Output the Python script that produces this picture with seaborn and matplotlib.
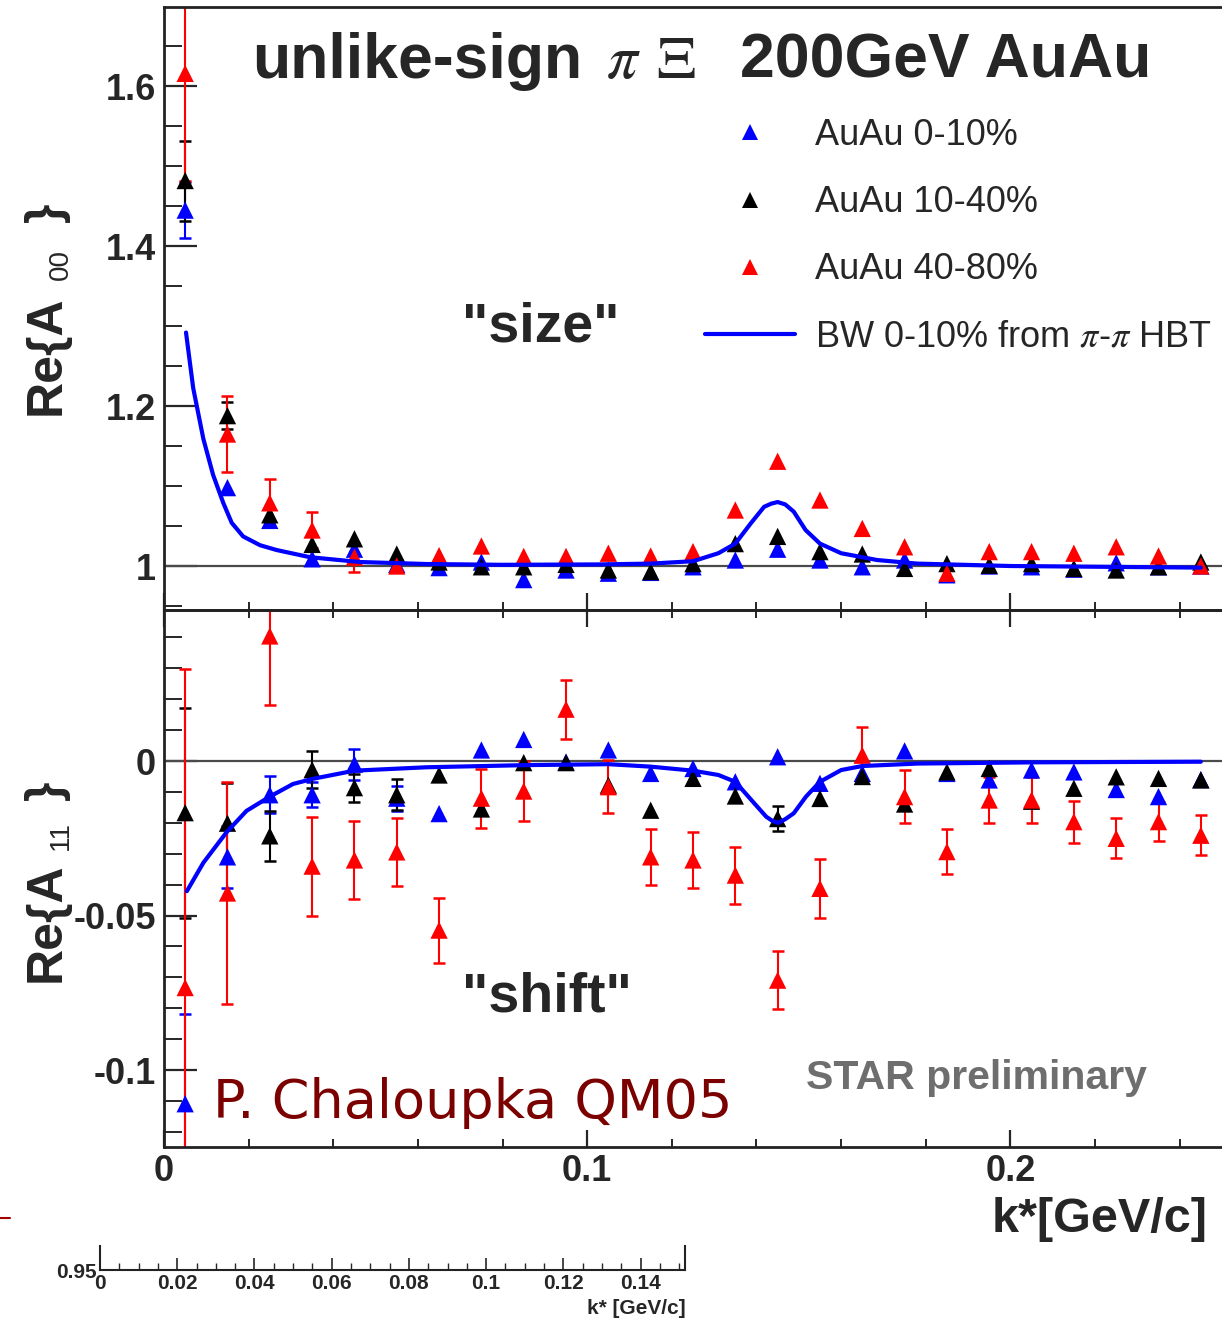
import matplotlib
matplotlib.use("Agg")
import numpy as np
import pandas as pd
import matplotlib.pyplot as plt
import seaborn as sns
from matplotlib.ticker import MultipleLocator, FixedLocator, FuncFormatter
from matplotlib.lines import Line2D

# ---------------------------------------------------------------- data
k_star = [0.005, 0.015, 0.025, 0.035, 0.045, 0.055, 0.065, 0.075, 0.085,
          0.095, 0.105, 0.115, 0.125, 0.135, 0.145, 0.155, 0.165, 0.175,
          0.185, 0.195, 0.205, 0.215, 0.225, 0.235, 0.245]

series_names = ["AuAu 0-10%", "AuAu 10-40%", "AuAu 40-80%"]
series_colors = ["#0000ff", "#000000", "#ff0000"]

# Re{A00} ("size"); an error of 0 means the bar is hidden behind its marker
a00_central = [1.445, 1.098, 1.057, 1.009, 1.021, 1.002, 0.998, 1.005, 0.983,
               0.995, 0.991, 0.992, 0.999, 1.0075, 1.021, 1.0075, 0.999, 1.0075,
               0.989, 1.000, 0.999, 0.996, 1.004, 0.999, 1.000]
a00_central_err = [0.035, 0, 0, 0, 0, 0, 0, 0, 0, 0, 0, 0, 0, 0, 0, 0, 0, 0,
                   0, 0, 0, 0, 0, 0, 0]
a00_midcent = [1.482, 1.188, 1.064, 1.027, 1.034, 1.015, 1.005, 0.999, 0.999,
               1.002, 0.995, 0.993, 1.003, 1.028, 1.037, 1.018, 1.015, 0.997,
               1.003, 1.001, 1.003, 0.997, 0.995, 0.999, 1.005]
a00_midcent_err = [0.050, 0.017, 0, 0, 0, 0, 0, 0, 0, 0, 0, 0, 0, 0, 0, 0, 0,
                   0, 0, 0, 0, 0, 0, 0, 0]
a00_periph = [1.616, 1.165, 1.079, 1.045, 1.011, 1.000, 1.013, 1.025, 1.012,
              1.012, 1.016, 1.0125, 1.018, 1.070, 1.131, 1.0825, 1.047, 1.024,
              0.991, 1.018, 1.018, 1.016, 1.024, 1.0125, 1.000]
a00_periph_err = [0.134, 0.048, 0.030, 0.022, 0.018, 0, 0, 0, 0, 0, 0, 0, 0,
                  0, 0, 0, 0, 0, 0, 0, 0, 0, 0, 0, 0]

# Re{A11} ("shift")
a11_central = [-0.1109, -0.031, -0.0109, -0.0109, -0.001, -0.012, -0.017, 0.0036,
               0.007, -0.0003, 0.0036, -0.004, -0.0024, -0.0067, 0.0014, -0.0072,
               -0.004, 0.0033, -0.004, -0.0061, -0.0029, -0.0035, -0.0092,
               -0.0115, -0.006]
a11_central_err = [0.029, 0.010, 0.006, 0.004, 0.005, 0.004, 0, 0, 0, 0, 0, 0,
                   0, 0, 0, 0, 0, 0, 0, 0, 0, 0, 0, 0, 0]
a11_midcent = [-0.0167, -0.0201, -0.0242, -0.0028, -0.0086, -0.0109, -0.0045,
               -0.0155, -0.0005, -0.0005, -0.0078, -0.0159, -0.0056, -0.0113,
               -0.0186, -0.0121, -0.0050, -0.0139, -0.0035, -0.0024, -0.013,
               -0.0088, -0.0051, -0.0056, -0.0061]
a11_midcent_err = [0.034, 0.013, 0.008, 0.006, 0.0045, 0.005, 0, 0, 0, 0, 0, 0,
                   0, 0, 0.004, 0, 0, 0, 0, 0, 0, 0, 0, 0, 0]
a11_periph = [-0.0733, -0.0427, 0.0405, -0.034, -0.032, -0.0294, -0.0547, -0.012,
              -0.0097, 0.0168, -0.0083, -0.031, -0.032, -0.0369, -0.0709, -0.0412,
              0.0019, -0.0115, -0.0293, -0.0126, -0.0126, -0.0196, -0.025,
              -0.0196, -0.024]
a11_periph_err = [0.103, 0.036, 0.0225, 0.016, 0.0125, 0.011, 0.0105, 0.0095,
                  0.0098, 0.0095, 0.0086, 0.009, 0.009, 0.0092, 0.0093, 0.0095,
                  0.009, 0.0085, 0.0074, 0.0074, 0.0074, 0.0068, 0.0065, 0.0063,
                  0.0064]

# Blast-wave 0-10% expectation from pi-pi HBT
bw_k_a00 = [0.0052, 0.0069, 0.0093, 0.0116, 0.014, 0.016, 0.0187, 0.0227, 0.0266,
            0.0345, 0.0463, 0.062, 0.080, 0.103, 0.115, 0.125, 0.131, 0.135,
            0.1386, 0.1418, 0.1435, 0.145, 0.1468, 0.1488, 0.1516, 0.155, 0.160,
            0.1685, 0.178, 0.200, 0.245]
bw_a00 = [1.292, 1.2225, 1.159, 1.114, 1.079, 1.054, 1.037, 1.026, 1.020,
          1.011, 1.005, 1.0025, 1.0015, 1.002, 1.003, 1.006, 1.016, 1.028,
          1.053, 1.074, 1.078, 1.080, 1.077, 1.068, 1.045, 1.028, 1.016,
          1.0075, 1.003, 1.000, 0.998]
bw_k_a11 = [0.0054, 0.0093, 0.0148, 0.0195, 0.025, 0.0305, 0.0353, 0.045, 0.062,
            0.0857, 0.105, 0.115, 0.125, 0.131, 0.135, 0.1395, 0.1423, 0.1437,
            0.1451, 0.1468, 0.1488, 0.1517, 0.155, 0.160, 0.165, 0.178, 0.206,
            0.245]
bw_a11 = [-0.0421, -0.0329, -0.023, -0.0161, -0.0115, -0.0074, -0.0057, -0.0031,
          -0.002, -0.0013, -0.001, -0.0018, -0.0031, -0.0045, -0.0067, -0.0137,
          -0.018, -0.0193, -0.020, -0.0188, -0.0169, -0.0115, -0.0067, -0.0029,
          -0.0016, -0.0008, -0.0004, -0.0002]

x_major = [0.0, 0.1, 0.2]
a00_major = [1.0, 1.2, 1.4, 1.6]
a11_major = [-0.1, -0.05, 0.0]
inset_major = [0.0, 0.02, 0.04, 0.06, 0.08, 0.10, 0.12, 0.14]

# ---------------------------------------------------------------- style
sns.set_theme(style="ticks")
plt.rcParams["font.family"] = ["Liberation Sans", "DejaVu Sans"]
plt.rcParams["mathtext.fontset"] = "stix"
plt.rcParams["axes.edgecolor"] = "#222222"

W, H = 1222, 1321
fig = plt.figure(figsize=(W / 100, H / 100), dpi=100)


def fx(px):
    return px / W


def fy(py):
    return 1 - py / H


def long_frame(values, errors):
    rows = []
    for name, vals, errs in zip(series_names, values, errors):
        for kk, v, e in zip(k_star, vals, errs):
            rows.append({"k": kk, "value": v, "err": e, "series": name})
    return pd.DataFrame(rows)


df00 = long_frame([a00_central, a00_midcent, a00_periph],
                  [a00_central_err, a00_midcent_err, a00_periph_err])
df11 = long_frame([a11_central, a11_midcent, a11_periph],
                  [a11_central_err, a11_midcent_err, a11_periph_err])

ax_top = fig.add_axes([fx(164), fy(610), fx(1222 - 164), (610 - 7) / H])
ax_bot = fig.add_axes([fx(164), fy(1147), fx(1222 - 164), (1147 - 610) / H])

palette = dict(zip(series_names, series_colors))


def draw_panel(ax, df, ref, bw_k, bw_v):
    ax.axhline(ref, color="#4a4a4a", lw=1.6, zorder=1)
    for name in series_names:
        sub = df[(df["series"] == name) & (df["err"] > 0)]
        ax.errorbar(sub["k"], sub["value"], yerr=sub["err"], fmt="none",
                    ecolor=palette[name], elinewidth=1.5, capsize=4.5,
                    capthick=1.8, zorder=2)
    sns.scatterplot(data=df, x="k", y="value", hue="series", palette=palette,
                    marker="^", s=155, linewidth=0, legend=False, ax=ax,
                    zorder=3)
    sns.lineplot(x=bw_k, y=bw_v, color="#0000ff", lw=3.0, sort=False,
                 estimator=None, ax=ax, zorder=4)
    ax.set_xlim(0, 0.25)
    ax.set_xlabel("")
    ax.set_ylabel("")
    ax.spines["right"].set_visible(False)
    for s in ("left", "top", "bottom"):
        ax.spines[s].set_linewidth(2.0)
    ax.xaxis.set_major_locator(FixedLocator(x_major))
    ax.xaxis.set_minor_locator(MultipleLocator(0.02))
    ax.xaxis.set_major_formatter(FuncFormatter(lambda v, _: f"{v:g}"))
    ax.yaxis.set_major_formatter(FuncFormatter(lambda v, _: f"{v:g}"))
    ax.tick_params(axis="y", which="major", direction="in", length=24,
                   width=1.6, labelsize=26, pad=6, right=False)
    ax.tick_params(axis="y", which="minor", direction="in", length=13,
                   width=1.4, right=False)
    ax.tick_params(axis="x", which="major", direction="in", length=12,
                   width=1.6, labelsize=26, pad=5)
    ax.tick_params(axis="x", which="minor", direction="in", length=6,
                   width=1.4)
    ax.set_facecolor("none")


draw_panel(ax_top, df00, 1.0, bw_k_a00, bw_a00)
ax_top.set_ylim(0.945, 1.699)
ax_top.yaxis.set_major_locator(FixedLocator(a00_major))
ax_top.yaxis.set_minor_locator(MultipleLocator(0.05))
ax_top.tick_params(axis="x", which="both", labelbottom=False, top=False)

draw_panel(ax_bot, df11, 0.0, bw_k_a11, bw_a11)
ax_bot.set_ylim(-0.1249, 0.0489)
ax_bot.yaxis.set_major_locator(FixedLocator(a11_major))
ax_bot.yaxis.set_minor_locator(MultipleLocator(0.01))
ax_bot.tick_params(axis="x", which="both", top=True, labelbottom=True)
for ax in (ax_top, ax_bot):
    for lab in ax.get_yticklabels() + ax.get_xticklabels():
        lab.set_fontweight("bold")

# legend
handles = [Line2D([], [], marker="^", color=c, linestyle="none", markersize=11,
                  markeredgewidth=0) for c in series_colors]
handles.append(Line2D([], [], color="#0000ff", lw=3.0))
labels = series_names + [r"BW 0-10% from $\pi$-$\pi$ HBT"]
ax_top.legend(handles, labels, loc="upper left",
              bbox_to_anchor=(fx(705), fy(118)), bbox_transform=fig.transFigure,
              frameon=False, borderpad=0, borderaxespad=0, handlelength=2.5,
              handletextpad=0.55, labelspacing=0.89, fontsize=26)

# titles and annotations
fig.text(fx(252), fy(78), "unlike-sign", fontsize=45, fontweight="bold",
         ha="left", va="baseline")
fig.text(fx(606), fy(78), r"$\pi\;\,\Xi$", fontsize=44, ha="left",
         va="baseline")
fig.text(fx(740), fy(78), "200GeV AuAu", fontsize=45, fontweight="bold",
         ha="left", va="baseline")
fig.text(fx(462), fy(341), '"size"', fontsize=40, fontweight="bold",
         ha="left", va="baseline")
fig.text(fx(462), fy(1012), '"shift"', fontsize=40, fontweight="bold",
         ha="left", va="baseline")
fig.text(fx(806), fy(1089), "STAR preliminary", fontsize=29.5,
         fontweight="bold", color="#6e6e6e", ha="left", va="baseline")
fig.text(fx(213), fy(1118), "P. Chaloupka QM05", fontsize=39,
         family=["DejaVu Sans"], color="#7b0000", ha="left", va="baseline")
fig.text(fx(1208), fy(1232), "k*[GeV/c]", fontsize=35, fontweight="bold",
         ha="right", va="baseline")

# y-axis titles
for base, sub, ytop, ysub, yend in (("Re{A", "00", 415, 280, 222),
                                    ("Re{A", "11", 982, 850, 800)):
    fig.text(fx(60), fy(ytop), base, fontsize=36, fontweight="bold",
             rotation=90, rotation_mode="anchor", ha="left", va="baseline")
    fig.text(fx(68), fy(ysub), sub, fontsize=20, rotation=90,
             rotation_mode="anchor", ha="left", va="baseline")
    fig.text(fx(60), fy(yend), "}", fontsize=36, fontweight="bold",
             rotation=90, rotation_mode="anchor", ha="left", va="baseline")

# secondary k* scale underneath
ax_in = fig.add_axes([fx(100), fy(1270), fx(585), 24 / H])
ax_in.set_xlim(0, 0.1515)
ax_in.set_ylim(0.95, 1.0)
ax_in.set_facecolor("none")
ax_in.spines["top"].set_visible(False)
for s in ("left", "right", "bottom"):
    ax_in.spines[s].set_linewidth(1.5)
ax_in.xaxis.set_major_locator(FixedLocator(inset_major))
ax_in.xaxis.set_minor_locator(MultipleLocator(0.005))
ax_in.xaxis.set_major_formatter(FuncFormatter(lambda v, _: f"{v:g}"))
ax_in.yaxis.set_major_locator(FixedLocator([0.95]))
ax_in.yaxis.set_major_formatter(FuncFormatter(lambda v, _: f"{v:g}"))
ax_in.tick_params(axis="x", which="major", direction="in", length=9, width=1.2,
                  labelsize=15, pad=3)
ax_in.tick_params(axis="x", which="minor", direction="in", length=5, width=1.0)
ax_in.tick_params(axis="y", which="major", length=0, labelsize=15, pad=2)
for lab in ax_in.get_xticklabels() + ax_in.get_yticklabels():
    lab.set_fontweight("bold")
fig.text(fx(686), fy(1314), "k* [GeV/c]", fontsize=15, fontweight="bold",
         ha="right", va="baseline")
fig.add_artist(Line2D([0, fx(10)], [fy(1218), fy(1218)], color="#a00000",
                      lw=1.5, transform=fig.transFigure))

fig.savefig("out.png", dpi=100)
